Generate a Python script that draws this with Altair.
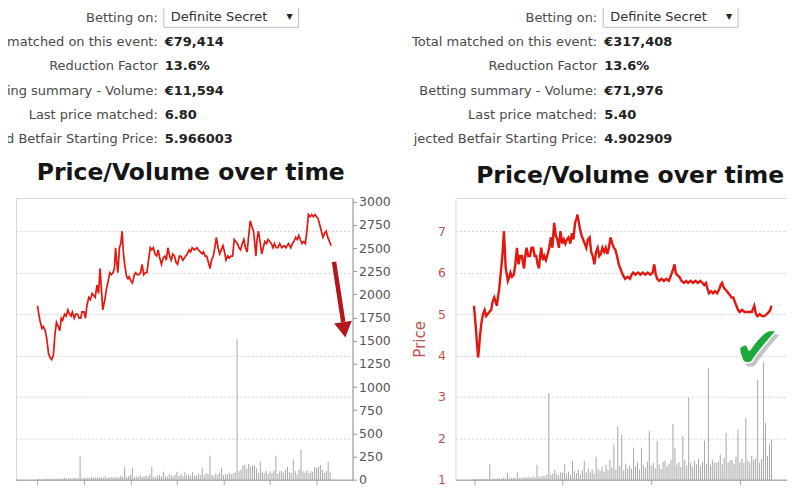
import altair as alt
import pandas as pd

FONT = "DejaVu Sans"
LINE_RED = "#e3170d"
AXIS_RED = "#c0504d"

# ---------------- info panel texts ----------------
left_labels = ["Betting on:", "matched on this event:", "Reduction Factor",
               "ing summary - Volume:", "Last price matched:", "d Betfair Starting Price:"]
left_values = ["", "€79,414", "13.6%", "€11,594", "6.80", "5.966003"]
right_labels = ["Betting on:", "Total matched on this event:", "Reduction Factor",
                "Betting summary - Volume:", "Last price matched:", "jected Betfair Starting Price:"]
right_values = ["", "€317,408", "13.6%", "€71,976", "5.40", "4.902909"]
dropdown_choice = "Definite Secret"
chart_title = "Price/Volume over time"

# ---------------- left chart data (time in minutes) ----------------
left_price_t = [0, 0.7, 1.5, 2.3, 3, 4, 4.8, 5.7, 6.5, 7.3, 8.2, 9, 9.8, 10.7, 11.5, 12.3, 13, 14,
                14.8, 15.7, 16.5, 17.3, 18, 19, 19.8, 20.7, 21.5, 22.3, 23, 24, 24.8, 25.5, 26.5,
                27.3, 28.2, 29, 29.8, 30.7, 31.5, 32.3, 33, 33.7, 34.8, 35.6, 36.5, 37.3, 38.2, 39,
                39.7, 40.3, 41, 41.5, 42.3, 43, 43.7, 44.3, 45, 46, 46.7, 47.3, 48.2, 49, 50, 50.7,
                51.5, 52.3, 53.2, 54, 54.8, 55.7, 56.5, 57.3, 58.2, 59, 59.8, 60.6, 61.5, 62.3, 63.1,
                64, 64.8, 65.7, 66.5, 67.3, 68.2, 69, 69.8, 70.7, 71.5, 72.3, 73.2, 74, 75, 76.5,
                77.3, 78.2, 79, 79.8, 81, 82.3, 83, 84, 85, 85.7, 86.5, 87.3, 88.2, 89, 89.8, 90.7,
                91.5, 92.3, 93.2, 94, 94.8, 95.7, 96.5, 97.3, 98.2, 99, 99.8, 100.7, 101.5, 102.3,
                103.2, 104, 104.8, 105.7, 106.5, 107.3, 108.2, 109, 109.8, 110.7, 111.5, 112.7,
                113.3, 114, 115, 115.7, 116.5, 117.3, 118.2, 119, 119.8, 120.7, 121.5, 122.3, 123.2,
                124, 125, 126, 127.3, 128.2, 129.5, 130.7, 131.5, 132.3, 133.2, 134, 134.8, 135.6,
                136.5, 137.3, 138.2, 139, 139.8, 140.6, 141.5, 142.3, 143.2, 144, 144.8, 145.7,
                146.5, 147.3, 148.2, 149, 149.8, 150.7, 151.5]
left_price_p = [5.2, 5.0, 4.8, 4.65, 4.7, 4.6, 4.4, 4.05, 3.95, 3.9, 4.0, 4.5, 4.8, 4.7, 4.6, 4.9,
                4.85, 5.0, 4.95, 5.1, 5.0, 4.95, 5.05, 4.9, 5.0, 5.0, 4.9, 4.9, 5.05, 5.05, 4.9, 5.2,
                5.4, 5.35, 5.5, 5.45, 5.4, 5.7, 5.5, 6.1, 5.6, 5.1, 5.35, 5.6, 5.8, 6.0, 5.95, 6.0,
                6.1, 6.6, 6.2, 6.0, 6.6, 6.7, 7.0, 6.5, 6.2, 5.9, 5.85, 5.9, 5.8, 5.75, 5.95, 6.0,
                5.95, 5.95, 6.0, 6.2, 5.95, 6.0, 6.0, 6.3, 6.6, 6.55, 6.6, 6.45, 6.4, 6.55, 6.35,
                6.2, 6.35, 6.4, 6.3, 6.6, 6.4, 6.3, 6.45, 6.4, 6.25, 6.2, 6.4, 6.4, 6.3, 6.4, 6.45,
                6.55, 6.5, 6.6, 6.55, 6.6, 6.55, 6.5, 6.45, 6.5, 6.4, 6.4, 6.25, 6.1, 6.3, 6.4,
                6.6, 6.85, 6.6, 6.45, 6.55, 6.65, 6.5, 6.3, 6.4, 6.35, 6.4, 6.4, 6.8, 6.75, 6.7,
                6.6, 6.55, 6.7, 6.8, 6.6, 6.5, 6.9, 7.25, 7.1, 7.0, 6.4, 6.8, 7.0, 6.7, 6.45, 6.6,
                6.75, 6.7, 6.8, 6.75, 6.7, 6.6, 6.7, 6.6, 6.6, 6.7, 6.6, 6.65, 6.6, 6.7, 6.6, 6.7,
                6.75, 6.85, 6.8, 6.9, 6.8, 6.7, 6.75, 6.7, 7.0, 7.4, 7.35, 7.4, 7.35, 7.4, 7.35,
                7.3, 7.15, 7.0, 6.85, 6.95, 7.0, 6.85, 6.75, 6.65]
left_volume = [5, 8, 6, 10, 7, 12, 9, 6, 11, 8,
               10, 14, 9, 12, 20, 15, 11, 18, 13, 22,
               16, 19, 250, 14, 21, 17, 25, 18, 28, 20,
               23, 30, 19, 26, 22, 35, 24, 20, 29, 25,
               31, 22, 27, 45, 33, 140, 28, 38, 55, 130,
               26, 34, 30, 48, 29, 36, 42, 31, 60, 140,
               35, 28, 44, 52, 38, 85, 40, 33, 58, 46,
               37, 50, 85, 41, 62, 36, 80, 45, 55, 39,
               80, 48, 43, 65, 52, 130, 47, 70, 58, 260,
               50, 44, 66, 53, 75, 130, 49, 60, 57, 72,
               55, 68, 80, 1520, 90, 110, 150, 165, 120, 170,
               140, 160, 150, 120, 75, 190, 85, 70, 95, 60,
               88, 72, 100, 260, 65, 92, 90, 78, 105, 140,
               82, 70, 220, 95, 60, 110, 325, 88, 75, 100,
               68, 92, 85, 140, 130, 140, 160, 110, 72, 95,
               190, 80]
left_x_domain = [-8.5, 160]
left_x_ticks = [0, 24, 48, 72, 96, 120, 144]
left_vol_domain = [0, 3040]
left_vol_ticks = [0, 250, 500, 750, 1000, 1250, 1500, 1750, 2000, 2250, 2500, 2750, 3000]

# ---------------- right chart data ----------------
right_price_t = [0, 0.8, 1.5, 2.1, 2.6, 3, 3.8, 4.6, 5.4, 6.2, 7, 7.8, 8.7, 9.5, 10.3, 11, 11.6,
                 12.3, 12.8, 13.6, 14.4, 15.2, 15.7, 16.1, 16.7, 17.2, 18, 18.5, 19.3, 20.2, 21,
                 21.8, 22.6, 23.4, 24.3, 25, 25.4, 26, 26.7, 27.5, 28.4, 29.2, 30, 30.8, 31.6,
                 32.3, 33, 33.6, 34.1, 35, 35.7, 36.5, 37.4, 38.2, 39, 39.8, 40.7, 41.5, 42.3,
                 43.1, 43.9, 44.8, 45.6, 46.4, 47.2, 48, 48.9, 49.7, 50.5, 51.3, 52, 52.5, 53.1,
                 53.8, 54.6, 55.4, 56.2, 57, 57.8, 58.7, 59.5, 60.3, 61.1, 62, 62.8, 63.6, 64.4,
                 65.2, 66.1, 66.9, 67.7, 68.5, 69.3, 70.2, 71, 71.8, 72.6, 73.5, 74.3, 75.5,
                 76.7, 78, 79.2, 80, 80.8, 82, 83.3, 84.5, 85.7, 87, 88.2, 89.5, 90.7, 91.5,
                 92.3, 93, 94, 95.2, 96.4, 97.6, 98.9, 99.7, 100.5, 101.2, 101.8, 102.4, 103,
                 104.2, 105.4, 106.6, 107.7, 108.7, 110, 111.2, 112.4, 113.6, 115, 116, 116.9,
                 117.8, 118.6, 119.3, 120.3, 121.3, 122.3, 123.4, 124.5, 125.2, 125.9, 126.7,
                 127.5, 128.4, 129.2, 130, 130.8, 131.6, 132.4, 133.2, 134, 134.9, 136.1, 137.3,
                 138.6, 139.8, 141, 142.3, 143.1, 143.9, 145, 146.2, 147.4, 148.6, 149.7, 150.4,
                 151]
right_price_p = [5.2, 4.75, 4.3, 3.95, 4.2, 4.45, 4.8, 5.0, 5.1, 4.95, 5.0, 5.05, 5.1, 5.3, 5.4,
                 5.3, 5.2, 5.45, 5.6, 6.0, 6.4, 7.0, 6.5, 6.1, 5.95, 5.8, 5.9, 6.0, 5.9, 5.95,
                 6.2, 6.6, 6.2, 6.4, 6.4, 6.2, 6.1, 6.4, 6.6, 6.4, 6.4, 6.6, 6.6, 6.4, 6.4, 6.2,
                 6.1, 6.4, 6.6, 6.3, 6.4, 6.3, 6.45, 6.6, 6.85, 6.6, 7.2, 6.9, 6.8, 6.6, 7.0,
                 6.7, 6.8, 6.7, 6.8, 6.85, 6.7, 6.95, 6.8, 7.2, 7.3, 7.4, 7.25, 7.05, 6.9, 6.8,
                 6.7, 6.6, 6.8, 6.85, 6.5, 6.4, 6.2, 6.5, 6.6, 6.4, 6.45, 6.6, 6.5, 6.6, 6.45,
                 6.6, 6.85, 6.7, 6.6, 6.55, 6.4, 6.2, 6.1, 5.95, 5.85, 5.9, 5.85, 5.95, 6.0,
                 5.95, 6.0, 5.95, 6.0, 5.95, 6.0, 5.95, 6.0, 6.2, 5.95, 5.85, 5.8, 5.85, 5.8,
                 5.85, 5.8, 5.9, 6.0, 6.1, 6.2, 6.0, 5.95, 5.9, 5.8, 5.75, 5.8, 5.75, 5.8, 5.75,
                 5.8, 5.75, 5.8, 5.75, 5.7, 5.75, 5.6, 5.5, 5.55, 5.5, 5.55, 5.5, 5.6, 5.7, 5.75,
                 5.65, 5.6, 5.55, 5.5, 5.45, 5.4, 5.4, 5.3, 5.2, 5.1, 5.05, 5.1, 5.05, 5.05, 5.05,
                 5.05, 5.2, 5.0, 4.95, 5.0, 4.95, 4.95, 5.0, 5.05, 5.1, 5.2]
right_volume = [8, 12, 10, 15, 9, 14, 18, 12, 266, 16,
                20, 14, 25, 18, 22, 30, 19, 120, 24, 28,
                35, 26, 130, 31, 40, 29, 45, 38, 52, 34,
                60, 42, 260, 55, 48, 70, 62, 95, 1510, 80,
                110, 170, 90, 75, 130, 120, 260, 100, 140, 85,
                330, 150, 115, 180, 95, 160, 330, 125, 200, 140,
                175, 110, 400, 190, 150, 220, 135, 260, 170, 350,
                210, 615, 180, 940, 240, 790, 160, 280, 200, 250,
                190, 557, 230, 300, 175, 557, 260, 210, 320, 850,
                240, 290, 200, 680, 270, 185, 310, 330, 230, 280,
                350, 975, 557, 260, 300, 220, 765, 340, 250, 1427,
                290, 230, 330, 270, 360, 240, 310, 680, 280, 1950,
                260, 350, 300, 290, 320, 440, 270, 380, 818, 300,
                340, 350, 280, 400, 875, 310, 360, 290, 1080, 330,
                300, 420, 350, 380, 1745, 300, 360, 2050, 990, 420,
                615, 700]
right_x_domain = [-6.89, 158.9]
right_x_ticks = [0, 45, 90, 135]
right_vol_domain = [0, 4920]
right_vol_ticks = [0, 500, 1000, 1500, 2000, 2500, 3000, 3500, 4000, 4500]

price_domain = [1, 7.8]
price_ticks = [1, 2, 3, 4, 5, 6, 7]

# annotations (data coordinates)
arrow_shaft_t = [153, 157.75]
arrow_shaft_p = [6.26, 4.81]
arrow_head_t = [158.25]
arrow_head_p = [4.62]
check_t = [144.0]
check_p = [4.12]

row_domain = [-0.526, 5.454]   # info rows, row 0 at the top
box_rows = [-0.526, 0.381]


def info_chart(labels, values):
    rows = list(range(len(labels)))
    df = pd.DataFrame({"row": rows, "label": labels, "value": values})
    yscale = alt.Scale(domain=row_domain, reverse=True, nice=False, zero=False)

    def yenc(field="row"):
        return alt.Y(f"{field}:Q", axis=None, scale=yscale)

    box_df = pd.DataFrame({"row": [0], "top": [box_rows[0]], "bottom": [box_rows[1]],
                           "choice": [dropdown_choice], "arrow": ["▼"]})
    box = alt.Chart(box_df).mark_rect(fill="white", stroke="#bdbdbd", strokeWidth=1).encode(
        x=alt.value(148), x2=alt.value(283), y=yenc("top"), y2=alt.Y2("bottom:Q"))
    choice = alt.Chart(box_df).mark_text(align="left", baseline="middle", font=FONT,
                                         fontSize=13, color="#333333", dy=-1.5).encode(
        x=alt.value(155), y=yenc(), text="choice:N")
    arrow = alt.Chart(box_df).mark_text(align="center", baseline="middle", font=FONT,
                                        fontSize=8, color="#222222", dy=-1.5).encode(
        x=alt.value(274), y=yenc(), text="arrow:N")
    lab = alt.Chart(df).mark_text(align="right", baseline="middle", font=FONT, fontSize=13,
                                  color="#4a4a4a").encode(
        x=alt.value(142), y=yenc(), text="label:N")
    val = alt.Chart(df).mark_text(align="left", baseline="middle", font=FONT, fontSize=13,
                                  fontWeight="bold", color="#222222").encode(
        x=alt.value(149), y=yenc(), text="value:N")
    return alt.layer(box, choice, arrow, lab, val).properties(
        width=337, height=145, view=alt.ViewBackground(strokeWidth=0))


def price_chart(pt, pp, vol, x_domain, x_ticks, vol_domain, vol_ticks, extra, stroke_w,
                vol_labels):
    price_df = pd.DataFrame({"m": pt, "p": pp})
    vol_df = pd.DataFrame({"m": list(range(len(vol))), "v": vol})

    def xenc():
        return alt.X("m:Q", title=None,
                     scale=alt.Scale(domain=x_domain, nice=False, zero=False),
                     axis=alt.Axis(values=x_ticks, labels=False, tickSize=5,
                                   tickColor="#aaaaaa", domainColor="#999999", grid=False))

    def yenc():
        return alt.Y("p:Q", title="Price",
                     scale=alt.Scale(domain=price_domain, nice=False, zero=False),
                     axis=alt.Axis(orient="left", values=price_ticks, grid=True,
                                   gridDash=[2, 2], gridColor="#d4d4d4", ticks=False,
                                   domain=False, labelColor=AXIS_RED, labelFontSize=12.5,
                                   labelFont=FONT, labelPadding=10, titleColor=AXIS_RED,
                                   titleFont=FONT, titleFontSize=15, titleFontWeight="normal",
                                   titlePadding=10))

    bars = alt.Chart(vol_df).mark_bar(size=1, color="#8a8a8a", opacity=0.75).encode(
        x=xenc(),
        y=alt.Y("v:Q", title=None,
                scale=alt.Scale(domain=vol_domain, nice=False),
                axis=alt.Axis(orient="right", values=vol_ticks, grid=False,
                              tickSize=4 if vol_labels else 2,
                              labels=vol_labels, format="d",
                              tickColor="#999999", domainColor="#999999",
                              labelColor="#555555", labelFontSize=12.5, labelFont=FONT,
                              labelPadding=2)))
    line = alt.Chart(price_df).mark_line(color=LINE_RED, strokeWidth=stroke_w).encode(
        x=xenc(), y=yenc(), order="m:Q")
    inner = [line]
    for kind, df in extra:
        if kind == "shaft":
            inner.append(alt.Chart(df).mark_line(color="#b3171b", strokeWidth=4.5,
                                                 strokeCap="butt").encode(x=xenc(), y=yenc()))
        elif kind == "head":
            inner.append(alt.Chart(df).mark_point(shape="triangle-down", size=320, filled=True,
                                                  color="#b3171b", opacity=1,
                                                  angle=351).encode(x=xenc(), y=yenc()))
        elif kind == "check":
            inner.append(alt.Chart(df).mark_text(text="✔", font=FONT, fontSize=60,
                                                 color="#555555", opacity=0.35, dx=3, dy=4,
                                                 baseline="middle").encode(x=xenc(), y=yenc()))
            inner.append(alt.Chart(df).mark_text(text="✔", font=FONT, fontSize=60,
                                                 color="#1ea83c", stroke="white",
                                                 strokeWidth=1.5,
                                                 baseline="middle").encode(x=xenc(), y=yenc()))
    return alt.layer(bars, alt.layer(*inner)).resolve_scale(y="independent").properties(
        width=337, height=282,
        title=alt.TitleParams(chart_title, font=FONT, fontSize=23.5, fontWeight="bold",
                              color="#151515", anchor="middle", frame="group", dx=6.5,
                              offset=16, dy=24, baseline="alphabetic"))


left_extra = [
    ("shaft", pd.DataFrame({"m": arrow_shaft_t, "p": arrow_shaft_p})),
    ("head", pd.DataFrame({"m": arrow_head_t, "p": arrow_head_p})),
]
right_extra = [("check", pd.DataFrame({"m": check_t, "p": check_p}))]

info_l = info_chart(left_labels, left_values)
info_r = info_chart(right_labels, right_values)
chart_l = price_chart(left_price_t, left_price_p, left_volume, left_x_domain, left_x_ticks,
                      left_vol_domain, left_vol_ticks, left_extra, 1.7, True)
chart_r = price_chart(right_price_t, right_price_p, right_volume, right_x_domain,
                      right_x_ticks, right_vol_domain, right_vol_ticks, right_extra, 2.4, False)

chart = alt.concat(info_l, info_r, chart_l, chart_r, columns=2,
                   spacing={"row": 48, "column": 103}, bounds="flush").properties(
    padding={"left": -36, "top": -4, "right": -8, "bottom": 0}, background="white"
).configure(font=FONT).configure_view(stroke="#d9d9d9")

chart.save("out.html", embed_options={"renderer": "svg", "actions": False})
